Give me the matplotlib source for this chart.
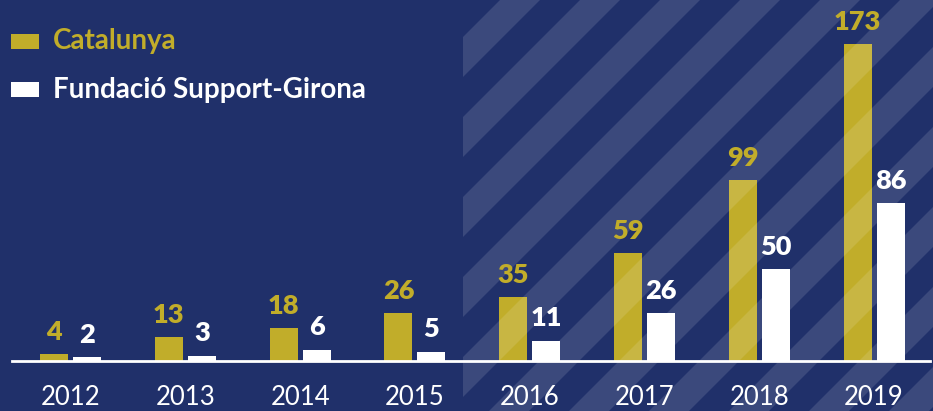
import numpy as np
import matplotlib.pyplot as plt
from matplotlib.patches import Polygon, Rectangle

# Data
years = ['2012', '2013', '2014', '2015', '2016', '2017', '2018', '2019']
catalunya = [4, 13, 18, 26, 35, 59, 99, 173]
support_girona = [2, 3, 6, 5, 11, 26, 50, 86]
series_names = ['Catalunya', 'Fundació Support-Girona']

BG = '#20306a'
GOLD = '#c1ad2a'
WHITE = '#ffffff'

plt.rcParams['font.family'] = ['Lato', 'DejaVu Sans']

W, H = 933, 411
fig = plt.figure(figsize=(W / 100, H / 100), dpi=100, facecolor=BG)
ax = fig.add_axes([0, 0, 1, 1])
ax.set_facecolor(BG)

x = np.arange(len(years))
bw = 0.244
off = 0.1437

ax.bar(x - off, catalunya, width=bw, color=GOLD, zorder=2)
ax.bar(x + off, support_girona, width=bw, color=WHITE, zorder=2)

# pixel-ish mapping: group spacing ~114.8px, baseline 50px from bottom
ax.set_xlim(-70.5 / 114.8, (W - 70.5) / 114.8)
ax.set_ylim(-50 / 1.832, (H - 50) / 1.832)
ax.axis('off')

# baseline
ax.axhline(0, xmin=12 / W, xmax=930 / W, color=WHITE, lw=2, zorder=2.5)

# diagonal stripes on the right part (figure pixel coords)
clip = Rectangle((463 / W, 0), 1, 1, transform=fig.transFigure,
                 facecolor='none', edgecolor='none')
fig.add_artist(clip)
period, band = 80, 40
for c in range(100, 1600, period):
    d0, d1 = c - H, c - H + band
    y0, y1 = -60, H + 60
    pts = [(d0 + y0, y0), (d1 + y0, y0), (d1 + y1, y1), (d0 + y1, y1)]
    pts = [(px / W, py / H) for px, py in pts]
    p = Polygon(pts, closed=True, transform=fig.transFigure,
                facecolor='white', alpha=0.12, edgecolor='none', zorder=3)
    ax.add_artist(p)
    p.set_clip_path(clip)

# value labels
for xi, v in zip(x, catalunya):
    ax.annotate(str(v), (xi - off, v), xytext=(0, 10), textcoords='offset points',
                ha='center', va='baseline', color=GOLD, fontsize=19.5,
                fontweight='heavy', zorder=5)
for xi, v in zip(x, support_girona):
    ax.annotate(str(v), (xi + off, v), xytext=(0, 10.5), textcoords='offset points',
                ha='center', va='baseline', color=WHITE, fontsize=19.5,
                fontweight='heavy', zorder=5)

# year labels
for xi, yr in zip(x, years):
    ax.text(xi, -20, yr, ha='center', va='center', color=WHITE, fontsize=18.5,
            zorder=5)

# legend
for i, (name, col) in enumerate(zip(series_names, [GOLD, WHITE])):
    yc = 1 - (41.5 + 48.5 * i) / H
    fig.add_artist(Rectangle((11 / W, yc - 7.5 / H), 28 / W, 15 / H,
                             transform=fig.transFigure, facecolor=col,
                             edgecolor='none'))
    fig.text(53 / W, yc, name, ha='left', va='center', color=col,
             fontsize=20, fontweight='bold')

fig.savefig('out.png', dpi=100, facecolor=BG)
